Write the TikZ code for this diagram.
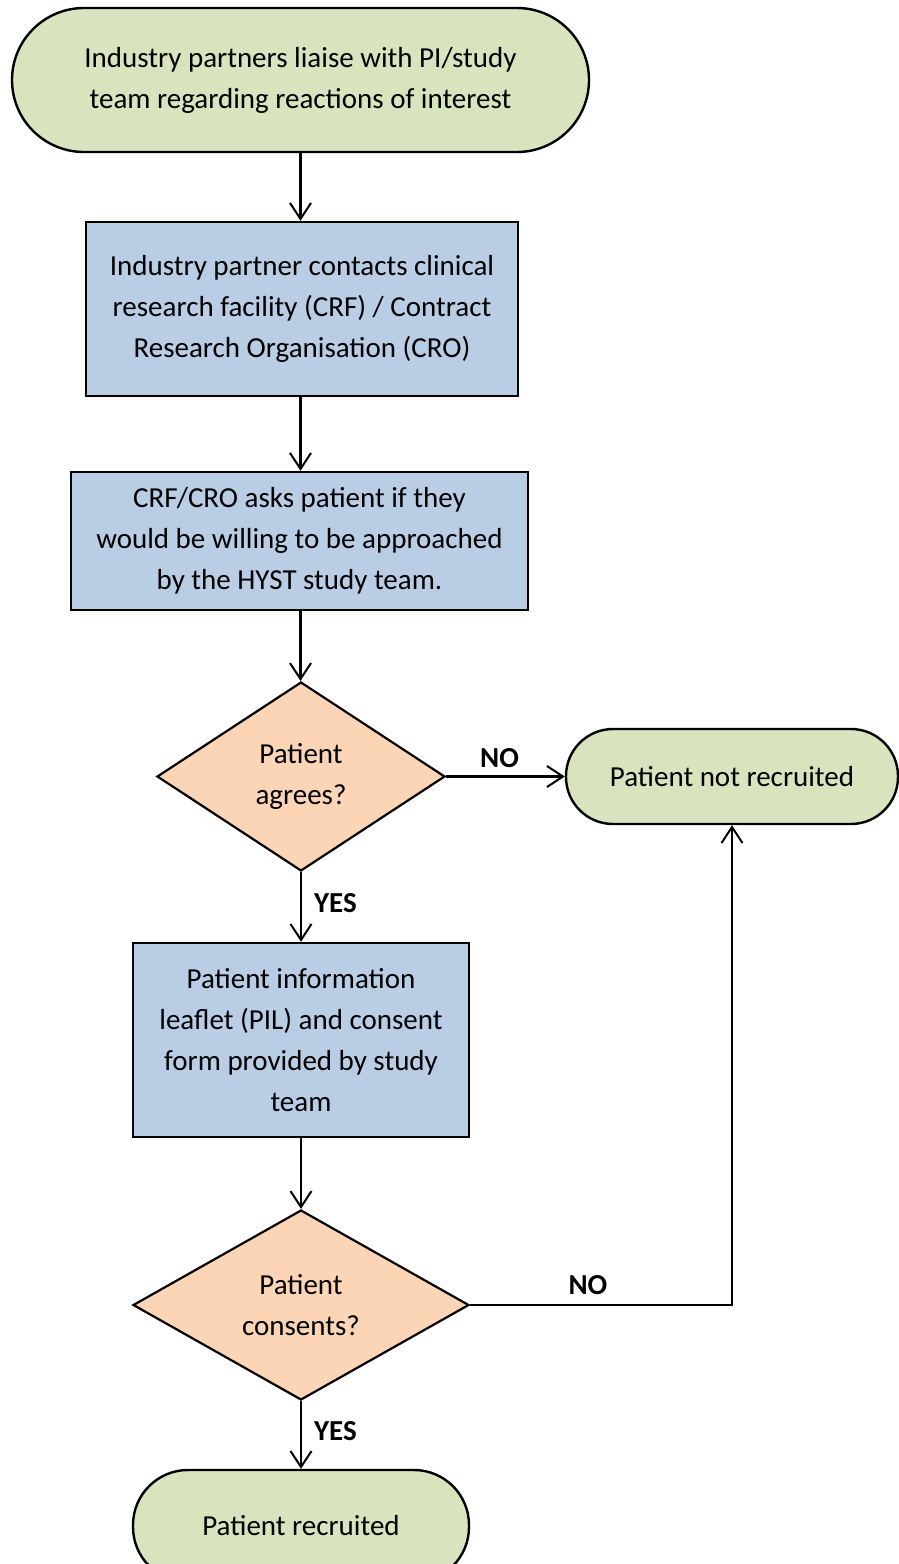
\documentclass[tikz,border=0pt]{standalone}
\usepackage{fontspec}
\setmainfont{Carlito}
\usetikzlibrary{shapes.geometric,arrows.meta}
\definecolor{termgreen}{HTML}{D7E4BD}
\definecolor{stepblue}{HTML}{B9CDE5}
\definecolor{decpeach}{HTML}{FBD5B5}
\begin{document}
\begin{tikzpicture}[x=1pt,y={(0,-1pt)},
  every node/.style={font=\fontsize{29}{41}\selectfont, align=center, inner sep=0pt},
  terminal/.style={draw, line width=2.4pt, fill=termgreen, rounded corners=#1},
  terminal/.default=47pt,
  stepbox/.style={draw, line width=2.4pt, fill=stepblue},
  decision/.style={draw, line width=2.2pt, fill=decpeach, diamond},
  flow/.style={line width=2.2pt, -{Straight Barb[length=16pt,width=21pt,line width=2pt]}},
  lbl/.style={font=\fontsize{29}{34}\selectfont\bfseries}]
\useasboundingbox (0,0) rectangle (899,1564);
\clip (0,0) rectangle (899,1564);

\node[terminal=72pt, minimum width=577pt, minimum height=144pt] (t1) at (300.5,80)
  {Industry partners liaise with PI/study\\team regarding reactions of interest};
\node[stepbox, minimum width=432pt, minimum height=174pt] (b1) at (302,309)
  {Industry partner contacts clinical\\research facility (CRF) / Contract\\Research Organisation (CRO)};
\node[stepbox, minimum width=457pt, minimum height=138pt] (b2) at (299.5,541)
  {CRF/CRO asks patient if they\\would be willing to be approached\\by the HYST study team.};
\node[decision, minimum width=288pt, minimum height=189pt] (d1) at (301,776.5)
  {Patient\\agrees?};
\node[terminal, minimum width=332pt, minimum height=95pt] (t2) at (732,776.5)
  {Patient not recruited};
\node[stepbox, minimum width=336pt, minimum height=194pt] (b3) at (301,1040)
  {Patient information\\leaflet (PIL) and consent\\form provided by study\\team};
\node[decision, minimum width=336pt, minimum height=190pt] (d2) at (301,1305)
  {Patient\\consents?};
\node[terminal=55pt, minimum width=336pt, minimum height=112pt] (t3) at (301,1526)
  {Patient recruited};

\draw[flow] (t1.south) -- (b1.north -| t1.south);
\draw[flow] (b1.south -| t1.south) -- (b2.north -| t1.south);
\draw[flow] (b2.south -| t1.south) -- (d1.north -| t1.south);
\draw[flow] (d1.east) -- node[lbl, above=8pt, pos=0.45] {NO} (t2.west);
\draw[flow] (d1.south) -- node[lbl, right=12pt, pos=0.45] {YES} (b3.north);
\draw[flow] (b3.south) -- (d2.north);
\draw[flow] (d2.east) -- node[lbl, above=9pt, pos=0.45] {NO} (d2.east -| t2.south) -- (t2.south);
\draw[flow] (d2.south) -- node[lbl, right=12pt, pos=0.45] {YES} (t3.north);
\end{tikzpicture}
\end{document}
